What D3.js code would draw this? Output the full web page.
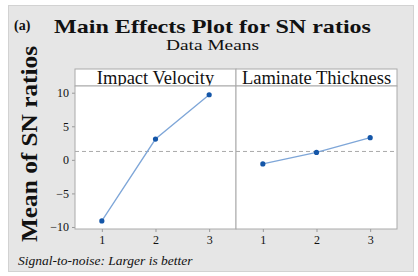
<!DOCTYPE html>
<html>
<head>
<meta charset="utf-8">
<script src="https://cdn.jsdelivr.net/npm/d3@7"></script>
<style>
  body { margin: 0; background: #fff; }
  text { font-family: "Liberation Serif", "Times New Roman", serif; fill: #111; }
</style>
</head>
<body>
<svg id="chart" width="418" height="276"></svg>
<script>
// values
const factors = ["Impact Velocity", "Laminate Thickness"];
const levels = [1, 2, 3];
const impactVelocity = [-9.1, 3.1, 9.7];
const laminateThickness = [-0.6, 1.1, 3.3];
const yTicks = [-10, -5, 0, 5, 10];

const series = [impactVelocity, laminateThickness];
const serif = "'Liberation Serif', 'Times New Roman', serif";

const svg = d3.select("#chart");

// gray frame
svg.append("rect")
  .attr("x", 8.5).attr("y", 5.5).attr("width", 405).attr("height", 266)
  .attr("fill", "#e6e6e6").attr("stroke", "#d2d2d2");

const plotL = 75, plotR = 397, plotT = 86, plotB = 229;
const panelW = (plotR - plotL) / factors.length;

const y = d3.scaleLinear().domain([-10.3, 11]).range([plotB, plotT]);
const grandMean = d3.mean(series.flat());

// titles
svg.append("text").attr("x", 14).attr("y", 30)
  .style("font-size", "14px").style("font-weight", "bold").text("(a)");
svg.append("text").attr("x", 54).attr("y", 33)
  .attr("textLength", 317).attr("lengthAdjust", "spacingAndGlyphs")
  .style("font-size", "19.5px").style("font-weight", "bold")
  .text("Main Effects Plot for SN ratios");
svg.append("text").attr("x", 166).attr("y", 50)
  .attr("textLength", 93).attr("lengthAdjust", "spacingAndGlyphs")
  .style("font-size", "14px").text("Data Means");

svg.append("text")
  .attr("transform", "translate(37,144) rotate(-90)")
  .attr("text-anchor", "middle")
  .attr("textLength", 196).attr("lengthAdjust", "spacingAndGlyphs")
  .style("font-size", "23px").style("font-weight", "bold")
  .text("Mean of SN ratios");

svg.append("text").attr("x", 18).attr("y", 265)
  .style("font-size", "13.5px").style("font-style", "italic")
  .text("Signal-to-noise: Larger is better");

// y axis
const yAxis = svg.append("g")
  .attr("transform", `translate(${plotL},0)`)
  .call(d3.axisLeft(y).tickValues(yTicks).tickSize(3).tickPadding(3));
yAxis.attr("font-family", serif).attr("font-size", 12);
yAxis.select(".domain").remove();
yAxis.selectAll("line").attr("stroke", "#999");
yAxis.selectAll("text").attr("fill", "#222");

factors.forEach((name, i) => {
  const x0 = plotL + i * panelW;
  const x = d3.scalePoint().domain(levels).range([x0, x0 + panelW]).padding(0.5);
  const g = svg.append("g");

  // strip header
  g.append("rect").attr("x", x0).attr("y", 69).attr("width", panelW).attr("height", plotT - 69)
    .attr("fill", "#fff").attr("stroke", "#aaa");
  g.append("text").attr("x", x0 + panelW / 2).attr("y", 83.5).attr("text-anchor", "middle")
    .style("font-size", "18.5px").text(name);

  // plot area
  g.append("rect").attr("x", x0).attr("y", plotT).attr("width", panelW).attr("height", plotB - plotT)
    .attr("fill", "#fff").attr("stroke", "#aaa");

  // reference line
  g.append("line").attr("x1", x0).attr("x2", x0 + panelW)
    .attr("y1", y(grandMean)).attr("y2", y(grandMean))
    .attr("stroke", "#aaa").attr("stroke-dasharray", "4,3");

  const xAxis = g.append("g").attr("transform", `translate(0,${plotB})`)
    .call(d3.axisBottom(x).tickSize(3).tickPadding(3));
  xAxis.attr("font-family", serif).attr("font-size", 12);
  xAxis.select(".domain").remove();
  xAxis.selectAll("line").attr("stroke", "#999");
  xAxis.selectAll("text").attr("fill", "#222");

  const data = levels.map((l, j) => [l, series[i][j]]);
  g.append("path").datum(data)
    .attr("fill", "none").attr("stroke", "#7ea6d8").attr("stroke-width", 1.3)
    .attr("d", d3.line().x(d => x(d[0])).y(d => y(d[1])));
  g.selectAll("circle").data(data).enter().append("circle")
    .attr("cx", d => x(d[0])).attr("cy", d => y(d[1])).attr("r", 2.6)
    .attr("fill", "#1456a8");
});
</script>
</body>
</html>
